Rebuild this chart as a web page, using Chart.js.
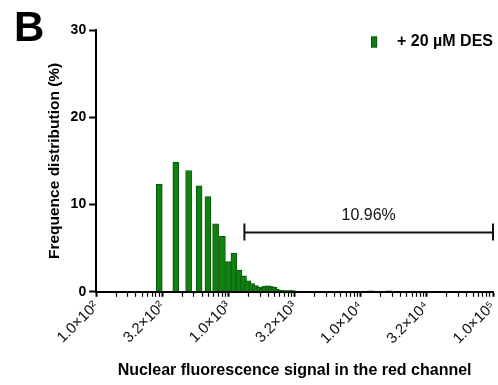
<!DOCTYPE html>
<html>
<head>
<meta charset="utf-8">
<script src="https://cdn.jsdelivr.net/npm/chart.js@4.4.0/dist/chart.umd.min.js"></script>
<style>
  html, body { margin: 0; padding: 0; background: #ffffff; }
  #wrap { width: 498px; height: 385px; position: relative; }
</style>
</head>
<body>
<div id="wrap"><canvas id="c" width="498" height="385"></canvas></div>
<script>
// Histogram of nuclear red-channel signal, 100-unit bins (bin centres)
const binCenters = [300, 400, 500, 600, 700, 800, 900, 1000, 1100, 1200, 1300, 1400, 1500, 1600,
  1700, 1800, 1900, 2000, 2100, 2200, 2300, 2400, 2500, 2600, 2700, 2800, 2900, 3000, 3100,
  11900, 16400];
// Frequency (%) in each bin
const frequencies = [12.3, 14.85, 13.9, 12.15, 10.9, 7.8, 6.35, 3.45, 4.4, 2.5, 1.84, 1.26, 0.95, 0.72,
  0.55, 0.42, 0.65, 0.68, 0.6, 0.5, 0.3, 0.2, 0.15, 0.15, 0.1, 0.1, 0.1, 0.15, 0.1,
  0.1, 0.1];
const xTickValues = [100, 316.23, 1000, 3162.3, 10000, 31623, 100000];
const xTickLabels = ['1.0×10²', '3.2×10²', '1.0×10³', '3.2×10³', '1.0×10⁴', '3.2×10⁴', '1.0×10⁵'];
const yTickValues = [0, 10, 20, 30];
const seriesName = '+ 20 µM DES';
// Gate marking the high-signal population
const gateRange = [1320, 100000];
const gateLevel = 6.8;
const gateLabel = '10.96%';
const panelLetter = 'B';

const FAMILY = '"Liberation Sans", Arial, Helvetica, sans-serif';
const BAR_FILL = '#108010';
const BAR_EDGE = '#0a560a';

// Major ticks every half decade; minor ticks log-spaced inside each interval
function buildXTicks() {
  const out = [];
  for (let i = 0; i < xTickValues.length; i++) {
    out.push({ value: xTickValues[i], main: true, major: false });
    if (i < xTickValues.length - 1) {
      const a = xTickValues[i], b = xTickValues[i + 1];
      for (let m = 2; m <= 9; m++) {
        out.push({ value: a * Math.pow(b / a, Math.log10(m)), main: false, major: false });
      }
    }
  }
  return out;
}

function labelFor(v) {
  for (let i = 0; i < xTickValues.length; i++) {
    if (Math.abs(Math.log10(v) - Math.log10(xTickValues[i])) < 1e-6) return xTickLabels[i];
  }
  return '';
}

const gatePlugin = {
  id: 'gate',
  afterDatasetsDraw(chart) {
    const { ctx, scales: { x, y } } = chart;
    const x0 = x.getPixelForValue(gateRange[0]);
    const x1 = x.getPixelForValue(gateRange[1]);
    const yy = Math.round(y.getPixelForValue(gateLevel)) + 0.5;
    ctx.save();
    ctx.strokeStyle = '#111';
    ctx.lineWidth = 2;
    ctx.beginPath();
    ctx.moveTo(x0, yy); ctx.lineTo(x1, yy);
    ctx.moveTo(x0, yy - 9); ctx.lineTo(x0, yy + 8);
    ctx.moveTo(x1, yy - 9); ctx.lineTo(x1, yy + 8);
    ctx.stroke();
    ctx.fillStyle = '#111';
    ctx.font = '16px ' + FAMILY;
    ctx.textAlign = 'center';
    ctx.textBaseline = 'middle';
    ctx.fillText(gateLabel, (x0 + x1) / 2, yy - 17);
    ctx.restore();
  }
};

// Panel letter and series key
const decorPlugin = {
  id: 'decor',
  afterDraw(chart) {
    const { ctx, chartArea } = chart;
    ctx.save();
    ctx.fillStyle = '#000';
    ctx.font = 'bold 42px ' + FAMILY;
    ctx.textAlign = 'left';
    ctx.textBaseline = 'alphabetic';
    ctx.fillText(panelLetter, 14, 41);

    const ds = chart.data.datasets[0];
    ctx.font = 'bold 16px ' + FAMILY;
    ctx.textAlign = 'right';
    ctx.textBaseline = 'middle';
    const tx = chartArea.right;
    const ty = chartArea.top + 12;
    ctx.fillText(ds.label, tx, ty);
    const w = ctx.measureText(ds.label).width;
    const bx = tx - w - 26;
    ctx.fillStyle = ds.backgroundColor;
    ctx.strokeStyle = ds.borderColor;
    ctx.lineWidth = 1;
    ctx.fillRect(bx, ty - 5.5, 6, 11);
    ctx.strokeRect(bx + 0.5, ty - 5, 5, 10);
    ctx.restore();
  }
};

new Chart(document.getElementById('c'), {
  type: 'bar',
  data: {
    datasets: [{
      label: seriesName,
      data: binCenters.map((v, i) => ({ x: v, y: frequencies[i] })),
      backgroundColor: BAR_FILL,
      borderColor: BAR_EDGE,
      borderWidth: 1,
      borderSkipped: 'start',
      barThickness: 6
    }]
  },
  options: {
    responsive: false,
    animation: false,
    layout: { padding: { left: 45, right: 5, top: 30, bottom: 5 } },
    plugins: {
      tooltip: { enabled: false },
      legend: { display: false }
    },
    scales: {
      x: {
        type: 'logarithmic',
        min: 100,
        max: 100000,
        offset: false,
        afterBuildTicks(scale) { scale.ticks = buildXTicks(); },
        // rotated labels end at their tick, so no extra room is needed on the right
        afterFit(scale) { scale.paddingRight = 0; },
        ticks: {
          autoSkip: false,
          minRotation: 45,
          maxRotation: 45,
          padding: 1,
          color: '#111',
          font: { family: FAMILY, size: 15 },
          callback: (v) => labelFor(v)
        },
        grid: {
          offset: false,
          drawOnChartArea: false,
          drawTicks: true,
          tickLength: 5,
          tickColor: '#000',
          tickWidth: (c) => (c.tick && c.tick.main ? 2 : 1.2)
        },
        border: { display: true, color: '#000', width: 2 },
        title: {
          display: true,
          text: 'Nuclear fluorescence signal in the red channel',
          color: '#000',
          font: { family: FAMILY, size: 16, weight: 'bold' },
          padding: { top: 12, bottom: 0 }
        }
      },
      y: {
        min: 0,
        max: 30,
        afterBuildTicks(scale) { scale.ticks = yTickValues.map(v => ({ value: v })); },
        ticks: {
          color: '#000',
          padding: 3,
          font: { family: FAMILY, size: 14, weight: 'bold' }
        },
        grid: {
          drawOnChartArea: false,
          drawTicks: true,
          tickLength: 7,
          tickWidth: 2,
          tickColor: '#000'
        },
        border: { display: true, color: '#000', width: 2 },
        title: {
          display: true,
          text: 'Frequence distribution (%)',
          color: '#000',
          font: { family: FAMILY, size: 15.5, weight: 'bold' },
          padding: { top: 0, bottom: 4 }
        }
      }
    }
  },
  plugins: [gatePlugin, decorPlugin]
});
</script>
</body>
</html>
